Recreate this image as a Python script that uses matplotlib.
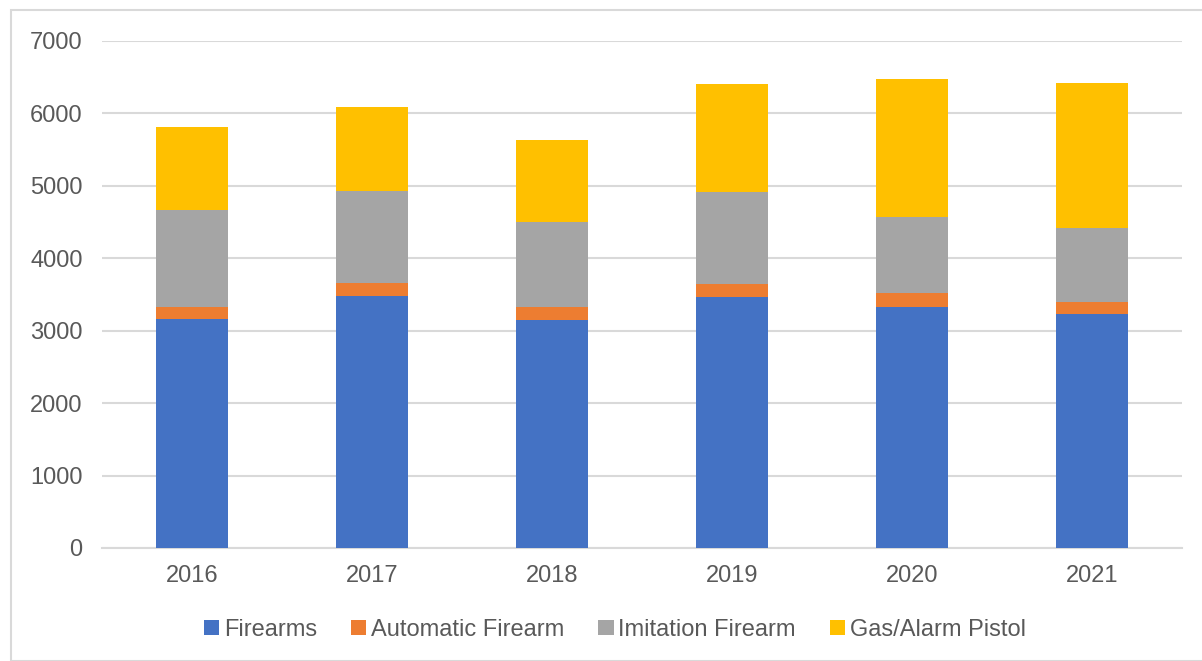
import matplotlib.pyplot as plt
from matplotlib.patches import Rectangle
import numpy as np

# Datos
years = ["2016", "2017", "2018", "2019", "2020", "2021"]
firearms = [3163, 3485, 3149, 3467, 3324, 3232]
automatic = [161, 175, 175, 175, 194, 161]
imitation = [1345, 1275, 1183, 1275, 1058, 1027]
gas_alarm = [1150, 1152, 1119, 1488, 1897, 1998]

series_names = ["Firearms", "Automatic Firearm", "Imitation Firearm", "Gas/Alarm Pistol"]
colors = ["#4472C4", "#ED7D31", "#A5A5A5", "#FFC000"]

plt.rcParams['font.family'] = ['Liberation Sans', 'DejaVu Sans']

fig = plt.figure(figsize=(12.02, 6.61), dpi=100)
ax = fig.add_axes([0.0849, 0.171, 0.8985, 0.767])

# Borde del grafico
fig.patches.append(Rectangle((11 / 1202, 0), 1.0, 1 - 10 / 661, transform=fig.transFigure,
                             fill=False, edgecolor="#D9D9D9", linewidth=1.5))

x = np.arange(len(years))
bottom = np.zeros(len(years))
for vals, name, c in zip([firearms, automatic, imitation, gas_alarm], series_names, colors):
    ax.bar(x, vals, width=0.4, bottom=bottom, color=c, label=name, zorder=3)
    bottom += np.array(vals)

ax.set_xlim(-0.5, len(years) - 0.5)
ax.set_ylim(0, 7000)
ax.set_yticks(range(0, 7001, 1000))
ax.set_xticks(x)
ax.set_xticklabels(years)
ax.grid(axis="y", color="#D9D9D9", linewidth=1.5, zorder=0)
for s in ["top", "right", "left"]:
    ax.spines[s].set_visible(False)
ax.spines["bottom"].set_color("#D9D9D9")
ax.spines["bottom"].set_linewidth(1.5)
ax.tick_params(axis="both", length=0, labelsize=17, labelcolor="#595959")
ax.tick_params(axis="y", pad=14)
ax.tick_params(axis="x", pad=12)

fig.legend(loc="center", bbox_to_anchor=(0.5116, 0.047), ncol=4, frameon=False,
           fontsize=17, labelcolor="#595959", handlelength=0.64, handleheight=0.64,
           handletextpad=0.2, columnspacing=1.45)

plt.savefig("out.png", dpi=100)
